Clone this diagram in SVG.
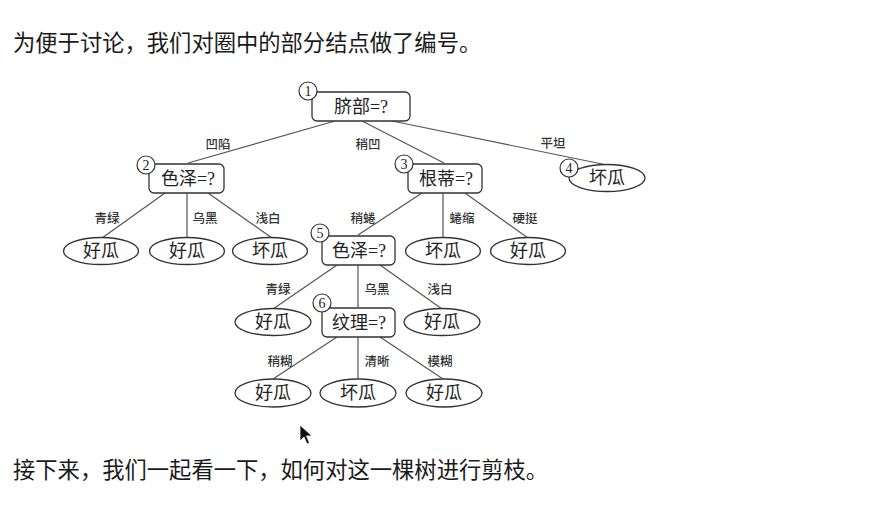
<svg xmlns="http://www.w3.org/2000/svg" width="876" height="519" viewBox="0 0 876 519">
  <style>
    .para { font-family: "Noto Sans CJK SC", "Liberation Sans", sans-serif; font-size: 22.3px; fill: #1a1a1a; }
    .box { fill: #fff; stroke: #333; stroke-width: 1.3; }
    .leaf { fill: #fff; stroke: #333; stroke-width: 1.3; }
    .num { fill: #fff; stroke: #333; stroke-width: 1.2; }
    .numt { font-family: "Liberation Serif", serif; font-size: 14px; fill: #222; text-anchor: middle; dominant-baseline: central; }
    .nt { font-family: "Liberation Serif", "Noto Sans CJK SC", serif; font-size: 18px; fill: #222; text-anchor: middle; dominant-baseline: central; }
    .lbl { font-family: "Noto Sans CJK SC", sans-serif; font-size: 12.5px; font-weight: 500; fill: #333; text-anchor: middle; dominant-baseline: central; }
    .edge { stroke: #555; stroke-width: 1.2; fill: none; }
  </style>
  <rect width="876" height="519" fill="#fff"/>

  <text class="para" x="13" y="51">为便于讨论，我们对圈中的部分结点做了编号。</text>
  <text class="para" x="13" y="478">接下来，我们一起看一下，如何对这一棵树进行剪枝。</text>

  <!-- connectors -->
  <g id="edges">
    <line class="edge" x1="335" y1="121" x2="188" y2="163"/>
    <line class="edge" x1="362" y1="121" x2="444" y2="163"/>
    <line class="edge" x1="392" y1="121" x2="607" y2="165"/>
    <line class="edge" x1="165" y1="193" x2="102" y2="238"/>
    <line class="edge" x1="187" y1="193" x2="187" y2="238"/>
    <line class="edge" x1="208" y1="193" x2="272" y2="238"/>
    <line class="edge" x1="422" y1="193" x2="358" y2="235"/>
    <line class="edge" x1="443" y1="193" x2="443" y2="238"/>
    <line class="edge" x1="465" y1="193" x2="528" y2="238"/>
    <line class="edge" x1="337" y1="265" x2="273" y2="309"/>
    <line class="edge" x1="358" y1="265" x2="358" y2="307"/>
    <line class="edge" x1="380" y1="265" x2="442" y2="309"/>
    <line class="edge" x1="337" y1="337" x2="273" y2="379"/>
    <line class="edge" x1="358" y1="337" x2="358" y2="379"/>
    <line class="edge" x1="380" y1="337" x2="443" y2="379"/>
  </g>

  <!-- edge labels -->
  <g id="edge-labels">
    <text class="lbl" x="218" y="143">凹陷</text>
    <text class="lbl" x="368" y="143">稍凹</text>
    <text class="lbl" x="553" y="142">平坦</text>
    <text class="lbl" x="107" y="217">青绿</text>
    <text class="lbl" x="205" y="217">乌黑</text>
    <text class="lbl" x="268" y="217">浅白</text>
    <text class="lbl" x="363" y="217">稍蜷</text>
    <text class="lbl" x="462" y="217">蜷缩</text>
    <text class="lbl" x="525" y="217">硬挺</text>
    <text class="lbl" x="278" y="288">青绿</text>
    <text class="lbl" x="377" y="288">乌黑</text>
    <text class="lbl" x="440" y="288">浅白</text>
    <text class="lbl" x="280" y="360">稍糊</text>
    <text class="lbl" x="377" y="360">清晰</text>
    <text class="lbl" x="440" y="360">模糊</text>
  </g>

  <!-- decision nodes -->
  <g id="n1">
    <rect class="box" x="312" y="92" width="98" height="29" rx="5"/>
    <text class="nt" x="361" y="107">脐部=?</text>
    <circle class="num" cx="308" cy="91" r="9"/>
    <text class="numt" x="308" y="91">1</text>
  </g>
  <g id="n2">
    <rect class="box" x="149" y="164" width="75" height="29" rx="5"/>
    <text class="nt" x="188" y="179">色泽=?</text>
    <circle class="num" cx="146" cy="165" r="9"/>
    <text class="numt" x="146" y="165">2</text>
  </g>
  <g id="n3">
    <rect class="box" x="408" y="164" width="74" height="29" rx="5"/>
    <text class="nt" x="446" y="179">根蒂=?</text>
    <circle class="num" cx="404" cy="164" r="9"/>
    <text class="numt" x="404" y="164">3</text>
  </g>
  <g id="n4">
    <ellipse class="leaf" cx="607" cy="178" rx="38" ry="13.5"/>
    <text class="nt" x="607" y="178">坏瓜</text>
    <circle class="num" cx="569" cy="168" r="9"/>
    <text class="numt" x="569" y="168">4</text>
  </g>
  <g id="n5">
    <rect class="box" x="322" y="236" width="73" height="29" rx="5"/>
    <text class="nt" x="359" y="251">色泽=?</text>
    <circle class="num" cx="320" cy="233" r="9"/>
    <text class="numt" x="320" y="233">5</text>
  </g>
  <g id="n6">
    <rect class="box" x="322" y="308" width="73" height="29" rx="5"/>
    <text class="nt" x="359" y="323">纹理=?</text>
    <circle class="num" cx="322" cy="303" r="9"/>
    <text class="numt" x="322" y="303">6</text>
  </g>

  <!-- leaves -->
  <g id="leaf-2a"><ellipse class="leaf" cx="101" cy="251" rx="37.5" ry="13.5"/><text class="nt" x="101" y="251">好瓜</text></g>
  <g id="leaf-2b"><ellipse class="leaf" cx="187" cy="251" rx="37.5" ry="13.5"/><text class="nt" x="187" y="251">好瓜</text></g>
  <g id="leaf-2c"><ellipse class="leaf" cx="270" cy="251" rx="37.5" ry="13.5"/><text class="nt" x="270" y="251">坏瓜</text></g>
  <g id="leaf-3a"><ellipse class="leaf" cx="443" cy="251" rx="37.5" ry="13.5"/><text class="nt" x="443" y="251">坏瓜</text></g>
  <g id="leaf-3b"><ellipse class="leaf" cx="528" cy="251" rx="37.5" ry="13.5"/><text class="nt" x="528" y="251">好瓜</text></g>
  <g id="leaf-5a"><ellipse class="leaf" cx="273" cy="322" rx="38" ry="13.5"/><text class="nt" x="273" y="322">好瓜</text></g>
  <g id="leaf-5c"><ellipse class="leaf" cx="442" cy="322" rx="38" ry="13.5"/><text class="nt" x="442" y="322">好瓜</text></g>
  <g id="leaf-6a"><ellipse class="leaf" cx="273" cy="393" rx="38" ry="14"/><text class="nt" x="273" y="393">好瓜</text></g>
  <g id="leaf-6b"><ellipse class="leaf" cx="358" cy="393" rx="38" ry="14"/><text class="nt" x="358" y="393">坏瓜</text></g>
  <g id="leaf-6c"><ellipse class="leaf" cx="444" cy="393" rx="38" ry="14"/><text class="nt" x="444" y="393">好瓜</text></g>

  <!-- pointer -->
  <path d="M300,425 L300,441 L304,437 L307,444 L309.5,443 L306.5,436 L312,436 Z" fill="#111" stroke="#fff" stroke-width="0.8"/>
</svg>
